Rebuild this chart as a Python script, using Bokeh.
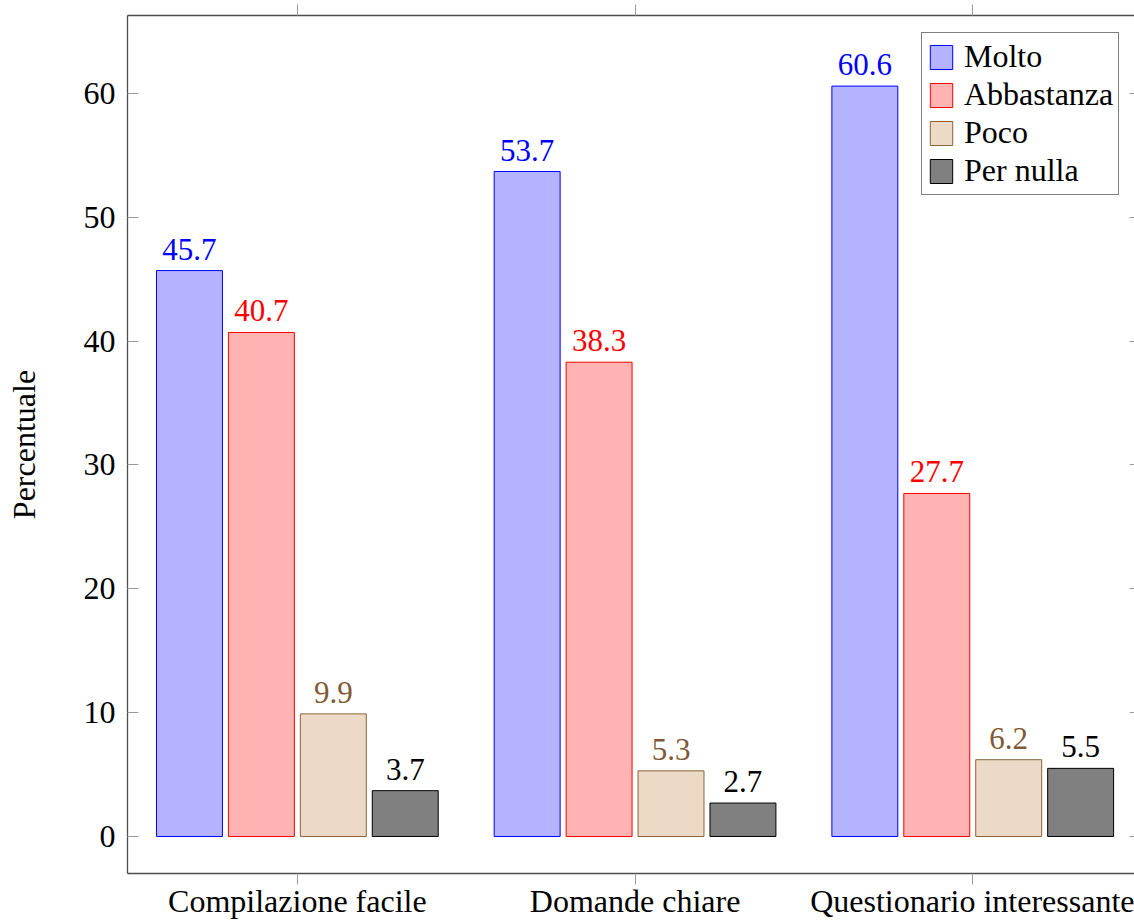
from bokeh.plotting import figure
from bokeh.models import (ColumnDataSource, Range1d, FixedTicker, LinearAxis,
                          LabelSet, Legend, LegendItem, CustomJSTickFormatter)
from bokeh.transform import dodge
from bokeh.embed import file_html
from bokeh.resources import INLINE

categories = ["Compilazione facile", "Domande chiare", "Questionario interessante"]
series = ["Molto", "Abbastanza", "Poco", "Per nulla"]
molto = [45.7, 53.7, 60.6]
abbastanza = [40.7, 38.3, 27.7]
poco = [9.9, 5.3, 6.2]
per_nulla = [3.7, 2.7, 5.5]
y_ticks = [0, 10, 20, 30, 40, 50, 60]

fills = ["#b3b3ff", "#ffb3b3", "#ecdac6", "#808080"]
edges = ["#0000ff", "#ff0000", "#8c6239", "#000000"]
text_colors = ["#0000ff", "#ff0000", "#7f5a34", "#000000"]
offsets = [-0.3195, -0.1065, 0.1065, 0.3195]
bar_w = 0.1953

FONT = "Liberation Serif"
FS = "32px"
FS_BAR = "31px"
AXIS_COL = "#4d4d4d"
TICK_COL = "#9a9a9a"

cols = ["molto", "abbastanza", "poco", "per_nulla"]
data = dict(x=list(range(len(categories))), molto=molto, abbastanza=abbastanza,
            poco=poco, per_nulla=per_nulla)
for c in cols:
    data[c + "_t"] = [f"{v:.1f}" for v in data[c]]
source = ColumnDataSource(data)

p = figure(width=1134, height=922,
           x_range=Range1d(-0.503, 2.479), y_range=Range1d(-2.99, 66.3),
           output_backend="svg", toolbar_location=None,
           min_border_left=127, min_border_right=0,
           min_border_top=15, min_border_bottom=49)
p.outline_line_color = None
p.xgrid.visible = False
p.ygrid.visible = False
p.background_fill_color = "white"

# bottom axis
xa = p.xaxis[0]
xa.ticker = FixedTicker(ticks=list(range(len(categories))))
xa.major_label_overrides = {i: c for i, c in enumerate(categories)}
xa.major_tick_out = 11
xa.major_tick_in = 0
xa.minor_tick_out = 0
xa.minor_tick_in = 0
xa.major_label_standoff = -2
xa.axis_line_color = AXIS_COL
xa.axis_line_width = 1.3
xa.major_tick_line_color = TICK_COL
xa.major_label_text_font = FONT
xa.major_label_text_font_size = FS
xa.major_label_text_color = "black"

# left axis
ya = p.yaxis[0]
ya.ticker = FixedTicker(ticks=y_ticks)
ya.major_tick_in = 11
ya.major_tick_out = 0
ya.minor_tick_out = 0
ya.minor_tick_in = 0
ya.major_label_standoff = 12
ya.axis_line_color = AXIS_COL
ya.axis_line_width = 1.3
ya.major_tick_line_color = TICK_COL
ya.major_label_text_font = FONT
ya.major_label_text_font_size = FS
ya.major_label_text_color = "black"
ya.axis_label = "Percentuale"
ya.axis_label_text_font = FONT
ya.axis_label_text_font_size = FS
ya.axis_label_text_font_style = "normal"
ya.axis_label_text_color = "black"
ya.axis_label_standoff = 39

blank = CustomJSTickFormatter(code="return ''")

# top axis (ticks only)
top = LinearAxis(ticker=FixedTicker(ticks=list(range(len(categories)))),
                 formatter=blank,
                 major_label_text_font_size="1px", major_label_standoff=0,
                 major_tick_out=11, major_tick_in=0,
                 minor_tick_out=0, minor_tick_in=0,
                 axis_line_color=AXIS_COL, axis_line_width=1.3,
                 major_tick_line_color=TICK_COL)
p.add_layout(top, "above")

# right axis (ticks only)
right = LinearAxis(ticker=FixedTicker(ticks=y_ticks), formatter=blank,
                   major_label_text_font_size="1px", major_label_standoff=0,
                   major_tick_out=0, major_tick_in=5,
                   minor_tick_out=0, minor_tick_in=0,
                   axis_line_color=None, major_tick_line_color=TICK_COL)
p.add_layout(right, "right")

items = []
for i, c in enumerate(cols):
    r = p.vbar(x=dodge("x", offsets[i], range=p.x_range), top=c, width=bar_w,
               bottom=0, source=source, fill_color=fills[i],
               line_color=edges[i], line_width=1)
    items.append(LegendItem(label=series[i], renderers=[r]))
    labels = LabelSet(x=dodge("x", offsets[i], range=p.x_range), y=c,
                      text=c + "_t", source=source, text_align="center",
                      text_baseline="alphabetic", y_offset=11,
                      text_font=FONT, text_font_size=FS_BAR,
                      text_color=text_colors[i])
    p.add_layout(labels)

legend = Legend(items=items, location=(794, 678), border_line_color="black",
                border_line_width=1, label_text_font=FONT,
                label_text_font_size=FS, label_text_color="black",
                glyph_width=28, glyph_height=30,
                spacing=1, padding=5, margin=0, label_standoff=9,
                background_fill_alpha=1.0)
p.add_layout(legend)

open("out.html", "w").write(file_html(p, INLINE))
